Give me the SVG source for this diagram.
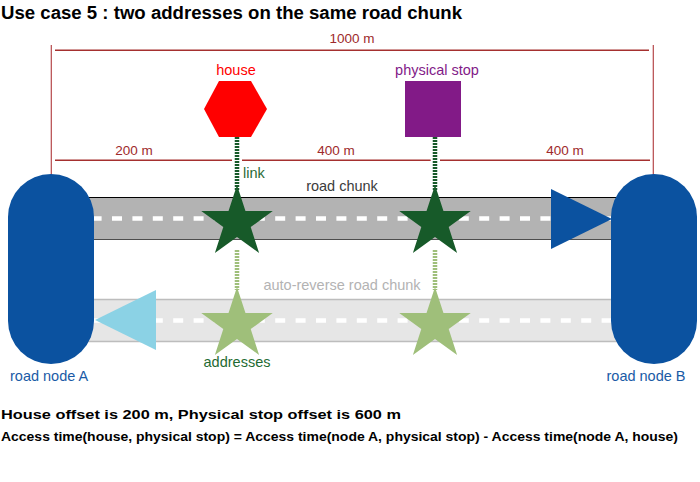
<svg xmlns="http://www.w3.org/2000/svg" width="700" height="482" viewBox="0 0 700 482">
<defs>
<style>
text{font-family:"Liberation Sans",Arial,sans-serif;}
.title{font-size:17.5px;font-weight:bold;fill:#000;}
.note{font-size:13.5px;font-weight:bold;fill:#000;}
.dim{font-size:13.5px;fill:#9e2a2b;}
.dimline{stroke:#a5302f;stroke-width:1.5;fill:none;}
.tick{stroke:#b5484a;stroke-width:1.2;fill:none;}
.lbl{font-size:14.5px;}
.node{fill:#0b52a0;}
.dash{stroke:#fff;stroke-width:4.5;stroke-dasharray:10 10.4;fill:none;}
.linkDark{stroke:#175a29;stroke-width:4.5;stroke-dasharray:2 1;fill:none;}
.linkLight{stroke:#9fbf7a;stroke-width:4.5;stroke-dasharray:2 1;fill:none;}
</style>
<polygon id="star" points="0,-37.6 8.46,-11.65 35.76,-11.62 13.7,4.45 22.1,30.42 0,14.4 -22.1,30.42 -13.7,4.45 -35.76,-11.62 -8.46,-11.65"/>
</defs>
<rect width="700" height="482" fill="#fff"/>
<text class="title" x="1" y="18.5" textLength="461" lengthAdjust="spacingAndGlyphs">Use case 5 : two addresses on the same road chunk</text>
<g id="dimensions">
<line class="tick" x1="51.3" y1="45" x2="51.3" y2="176"/>
<line class="tick" x1="653.3" y1="45" x2="653.3" y2="176"/>
<line class="dimline" x1="55" y1="50.3" x2="649" y2="50.3"/>
<text class="dim" x="352" y="43" text-anchor="middle">1000 m</text>
<line class="dimline" x1="55" y1="160.3" x2="232" y2="160.3"/>
<line class="dimline" x1="242" y1="160.3" x2="430.7" y2="160.3"/>
<line class="dimline" x1="440" y1="160.3" x2="650" y2="160.3"/>
<text class="dim" x="134" y="155" text-anchor="middle">200 m</text>
<text class="dim" x="336" y="155" text-anchor="middle">400 m</text>
<text class="dim" x="565" y="155" text-anchor="middle">400 m</text>
</g>
<g id="roadChunk">
<rect x="60" y="197" width="580" height="43" fill="#b3b3b3"/>
<line x1="60" y1="197.5" x2="640" y2="197.5" stroke="#000" stroke-width="1.2"/>
<line x1="60" y1="239.5" x2="640" y2="239.5" stroke="#4d4d4d" stroke-width="1.2"/>
<line class="dash" x1="91.6" y1="218.5" x2="620" y2="218.5"/>
<polygon points="551,189 551,249 612,219" fill="#0b52a0"/>
<text class="lbl" x="342" y="191" text-anchor="middle" fill="#3c3c3c">road chunk</text>
</g>
<g id="autoReverseRoadChunk">
<rect x="60" y="299" width="580" height="43" fill="#e6e6e6"/>
<line x1="60" y1="299.5" x2="640" y2="299.5" stroke="#bdbdbd" stroke-width="1.5"/>
<line x1="60" y1="341.5" x2="640" y2="341.5" stroke="#bdbdbd" stroke-width="1.5"/>
<line class="dash" x1="91.6" y1="320.5" x2="620" y2="320.5"/>
<polygon points="95,320 156,290 156,350" fill="#8bd2e5"/>
<text class="lbl" x="342" y="290" text-anchor="middle" fill="#b3b3b3">auto-reverse road chunk</text>
</g>
<g id="connectors">
<line class="linkDark" x1="237" y1="137" x2="237" y2="190"/>
<line class="linkDark" x1="435" y1="137" x2="435" y2="190"/>
<line class="linkLight" x1="237" y1="250" x2="237" y2="290"/>
<line class="linkLight" x1="435" y1="250" x2="435" y2="290"/>
<text class="lbl" x="243" y="178" fill="#2b6b36">link</text>
</g>
<g id="nodeA">
<rect class="node" x="8" y="174" width="86" height="190" rx="43" ry="43"/>
<text class="lbl" x="10" y="381" fill="#1a5ba6">road node A</text>
</g>
<g id="nodeB">
<rect class="node" x="611" y="174" width="86" height="190" rx="43" ry="43"/>
<text class="lbl" x="646" y="381" text-anchor="middle" fill="#1a5ba6">road node B</text>
</g>
<g id="house">
<polygon points="219,81 251,81 267,109 251,137 219,137 204,109" fill="#ff0000"/>
<text class="lbl" x="236" y="75" text-anchor="middle" fill="#ff0000">house</text>
</g>
<g id="physicalStop">
<rect x="405" y="81" width="56" height="56" fill="#821a87"/>
<text class="lbl" x="437" y="75" text-anchor="middle" fill="#821a87">physical stop</text>
</g>
<g id="addresses">
<use href="#star" x="237" y="222.6" fill="#175a29"/>
<use href="#star" x="435" y="222.6" fill="#175a29"/>
<use href="#star" x="237" y="324.6" fill="#9fbf7a"/>
<use href="#star" x="435" y="324.6" fill="#9fbf7a"/>
<text class="lbl" x="237" y="367" text-anchor="middle" fill="#1f6b33">addresses</text>
</g>
<text class="note" x="1" y="419" textLength="400" lengthAdjust="spacingAndGlyphs">House offset is 200 m, Physical stop offset is 600 m</text>
<text class="note" x="1" y="441" textLength="677" lengthAdjust="spacingAndGlyphs">Access time(house, physical stop) = Access time(node A, physical stop) - Access time(node A, house)</text>
</svg>
